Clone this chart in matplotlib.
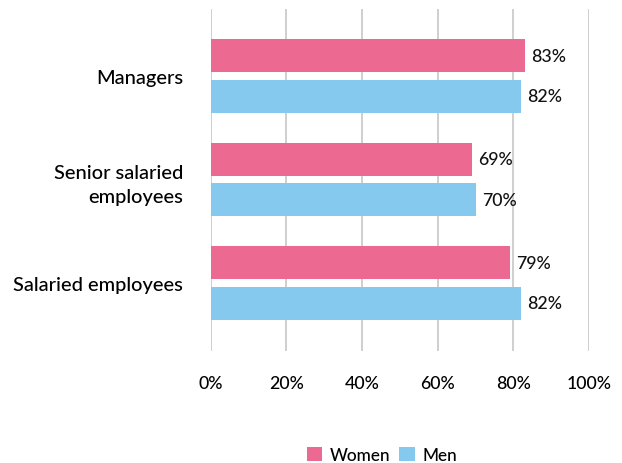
import matplotlib
matplotlib.use("Agg")
import matplotlib.pyplot as plt
import numpy as np

categories = ["Managers", "Senior salaried\nemployees", "Salaried employees"]
women = [83, 69, 79]
men = [82, 70, 82]
xticks = [0, 20, 40, 60, 80, 100]

plt.rcParams['font.family'] = ['Lato', 'DejaVu Sans']
plt.rcParams['font.weight'] = 'medium'

fig = plt.figure(figsize=(6.22, 4.64), dpi=100)
ax = fig.add_axes([0.339, 0.241, 0.608, 0.737])

pink = "#EC6A91"
blue = "#85C9EF"
y = np.arange(len(categories))
h = 0.32
off = 0.195
ax.barh(y - off, women, height=h, color=pink, label="Women", zorder=3)
ax.barh(y + off, men, height=h, color=blue, label="Men", zorder=3)

for yi, v in zip(y - off, women):
    ax.text(v + 1.6, yi, f"{v}%", va="center", ha="left", fontsize=12.8, color="#111111")
for yi, v in zip(y + off, men):
    ax.text(v + 1.6, yi, f"{v}%", va="center", ha="left", fontsize=12.8, color="#111111")

ax.set_xlim(0, 100)
ax.set_ylim(2.66, -0.645)
ax.set_xticks(xticks)
ax.set_xticklabels([f"{t}%" for t in xticks], fontsize=12.8)
ax.set_yticks(y)
ax.set_yticklabels(categories, fontsize=14.4, ha="right", multialignment="right", linespacing=1.5)
for lbl in ax.get_yticklabels():
    if lbl.get_text() == "Managers":
        lbl.set_y(-0.03)
ax.tick_params(axis="both", length=0)
ax.tick_params(axis="x", pad=17)
ax.tick_params(axis="y", pad=20)
ax.grid(axis="x", color="#cccccc", linewidth=1.3, zorder=0)
for s in ax.spines.values():
    s.set_visible(False)

leg = fig.legend(loc="lower center", bbox_to_anchor=(0.614, -0.033), ncol=2, frameon=False,
                 fontsize=12.4, handlelength=0.9, handleheight=0.9, handletextpad=0.45,
                 columnspacing=0.5)
fig.savefig("out.png", dpi=100)
